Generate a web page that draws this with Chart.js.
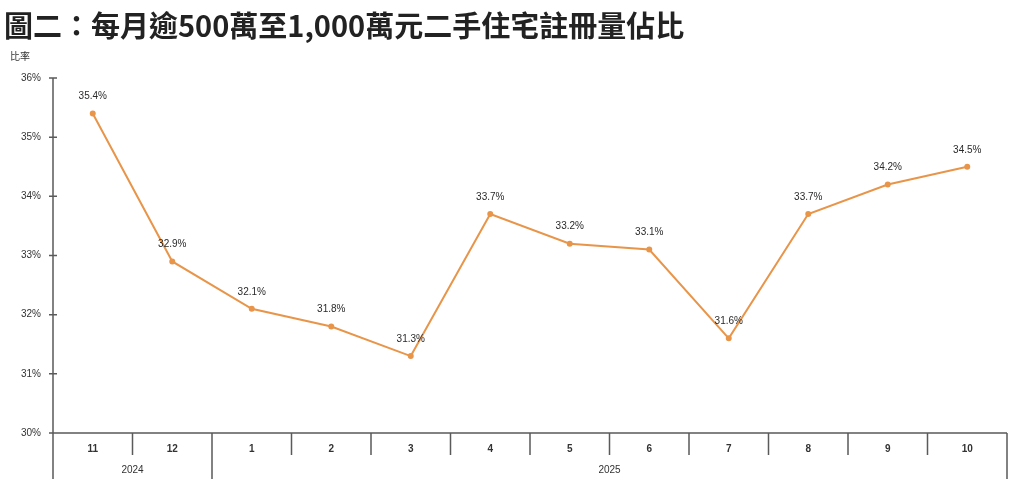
<!DOCTYPE html>
<html>
<head>
<meta charset="utf-8">
<script src="https://cdn.jsdelivr.net/npm/chart.js@4"></script>
<style>
  body { margin: 0; background: #fff; }
  #wrap { position: relative; width: 1020px; height: 485px; }
  #title { position: absolute; left: 4px; top: 3px; font-family: "Noto Sans CJK TC", sans-serif; font-weight: bold; font-size: 29px; color: #222; white-space: nowrap; letter-spacing: 0; }
  #unit { position: absolute; left: 10px; top: 48px; font-family: "Noto Sans CJK TC", sans-serif; font-size: 10px; color: #333; }
  canvas { position: absolute; left: 0; top: 0; }
</style>
</head>
<body>
<div id="wrap">
  <canvas id="ratio" width="1020" height="485"></canvas>
  <div id="title">圖二：每月逾500萬至1,000萬元二手住宅註冊量佔比</div>
  <div id="unit">比率</div>
</div>
<script>
// months and the share of registrations (%)
const months = ['11', '12', '1', '2', '3', '4', '5', '6', '7', '8', '9', '10'];
const shares = [35.4, 32.9, 32.1, 31.8, 31.3, 33.7, 33.2, 33.1, 31.6, 33.7, 34.2, 34.5];
const years = ['2024', '2025'];
const yearSpans = [2, 10];   // how many months fall in each year
const yTicks = [30, 31, 32, 33, 34, 35, 36];

const lineColor = '#E8954A';
const axisColor = '#5a5a5a';

// draws the axis lines, tick marks, year groups and the point labels
const decorations = {
    id: 'decorations',
    afterDatasetsDraw(chart) {
        const ctx = chart.ctx;
        const area = chart.chartArea;
        const y = chart.scales.y;
        const bottom = 479;
        ctx.save();
        ctx.strokeStyle = axisColor;
        ctx.lineWidth = 1.5;

        // y axis with ticks crossing it
        ctx.beginPath();
        ctx.moveTo(area.left, area.top);
        ctx.lineTo(area.left, bottom);
        yTicks.forEach(v => {
            const py = y.getPixelForValue(v);
            ctx.moveTo(area.left - 4, py);
            ctx.lineTo(area.left + 4, py);
        });
        // x axis
        ctx.moveTo(area.left, area.bottom);
        ctx.lineTo(area.right, area.bottom);
        ctx.stroke();

        // separators between months, longer at year breaks
        const step = (area.right - area.left) / months.length;
        let breaks = [0];
        yearSpans.reduce((acc, n) => { breaks.push(acc + n); return acc + n; }, 0);
        ctx.beginPath();
        for (let i = 1; i <= months.length; i++) {
            const px = area.left + step * i;
            ctx.moveTo(px, area.bottom);
            ctx.lineTo(px, breaks.includes(i) ? bottom : area.bottom + 22);
        }
        ctx.stroke();

        // year labels
        ctx.fillStyle = '#333';
        ctx.font = '10px "Liberation Sans", sans-serif';
        ctx.textAlign = 'center';
        ctx.textBaseline = 'middle';
        years.forEach((yr, i) => {
            const mid = area.left + step * (breaks[i] + breaks[i + 1]) / 2;
            ctx.fillText(yr, mid, 470);
        });

        // point labels
        const meta = chart.getDatasetMeta(0);
        ctx.fillStyle = '#2a2a2a';
        meta.data.forEach((pt, i) => {
            ctx.fillText(shares[i].toFixed(1) + '%', pt.x, pt.y - 17);
        });
        ctx.restore();
    }
};

const ctx = document.getElementById('ratio').getContext('2d');
new Chart(ctx, {
    type: 'line',
    data: {
        labels: months,
        datasets: [{
            data: shares,
            borderColor: lineColor,
            backgroundColor: lineColor,
            borderWidth: 2,
            pointRadius: 2,
            pointHoverRadius: 2,
            tension: 0,
        }]
    },
    plugins: [decorations],
    options: {
        responsive: false,
        animation: false,
        layout: { padding: { top: 78, right: 13, left: 0, bottom: 0 } },
        plugins: {
            legend: { display: false },
            tooltip: { enabled: false },
        },
        scales: {
            x: {
                offset: true,
                grid: { display: false },
                border: { display: false },
                ticks: {
                    color: '#333',
                    font: { family: 'Liberation Sans', size: 10, weight: 'bold' },
                    padding: 2,
                    maxRotation: 0,
                },
                afterFit: (scale) => { scale.height = 52; },
            },
            y: {
                min: 30,
                max: 36,
                grid: { display: false },
                border: { display: false },
                ticks: {
                    stepSize: 1,
                    color: '#333',
                    padding: 4,
                    font: { family: 'Liberation Sans', size: 10 },
                    callback: (v) => v + '%',
                },
                afterFit: (scale) => { scale.width = 53; },
            }
        }
    }
});
</script>
</body>
</html>
